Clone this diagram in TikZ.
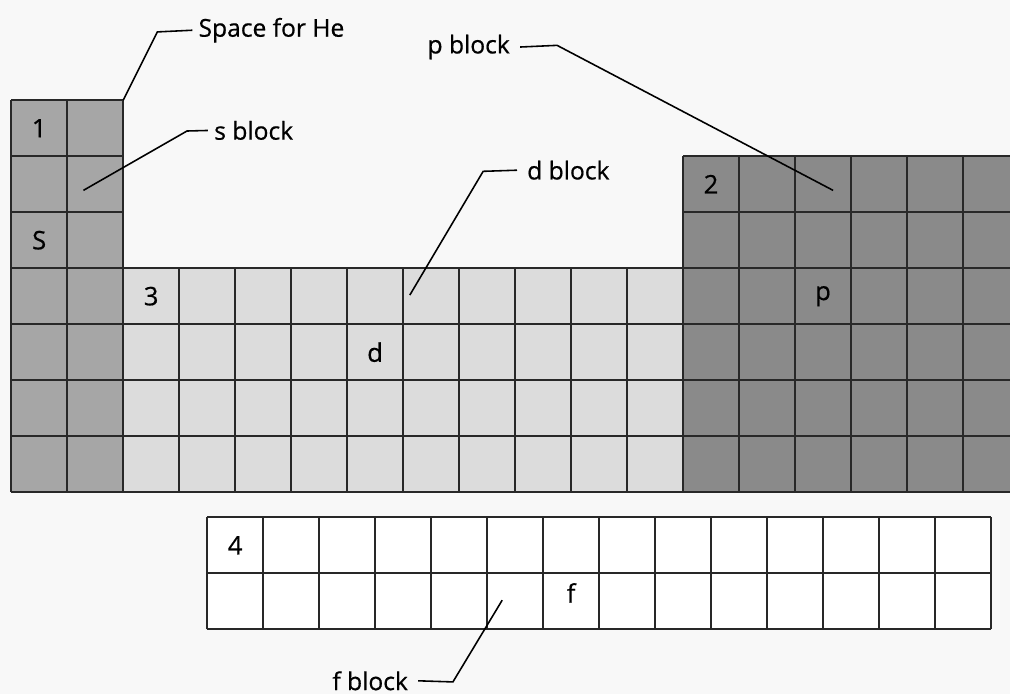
\documentclass[tikz,border=0pt]{standalone}
\usepackage{fontspec}
\setmainfont{Open Sans}[FakeBold=0.6]
\usepackage{tikz}
\usetikzlibrary{positioning}

\definecolor{paper}{RGB}{248,248,248}
\definecolor{sgray}{RGB}{166,166,166}
\definecolor{dgray}{RGB}{220,220,220}
\definecolor{pgray}{RGB}{138,138,138}
\definecolor{gridline}{RGB}{40,40,40}

\begin{document}
\begin{tikzpicture}[
    cellgrid/.style={draw=gridline, line width=1pt},
    lbl/.style={font=\fontsize{12.5}{14}\selectfont, inner sep=0pt, anchor=west},
    cell/.style={font=\fontsize{13}{15}\selectfont, inner sep=0pt},
    leader/.style={line width=0.8pt}
]
\useasboundingbox (-0.2,-3.61) rectangle (17.84,8.79);
\clip (-0.2,-3.61) rectangle (17.84,8.79);
\fill[paper] (-0.2,-3.61) rectangle (17.84,8.79);

\fill[sgray] (0,0) rectangle (2,7);
\fill[dgray] (2,0) rectangle (12,4);
\fill[pgray] (12,0) rectangle (18,6);
\fill[white] (3.5,-2.45) rectangle (17.5,-0.45);
\draw[cellgrid] (0,0) grid (2,7);
\draw[cellgrid] (2,0) grid (12,4);
\draw[cellgrid] (12,0) grid (18,6);
\begin{scope}[shift={(3.5,-2.45)}]
\draw[cellgrid] (0,0) grid (14,2);
\end{scope}

\node[cell] (one) at (0.5,6.5) {1};
\node[cell] (ess) at (0.5,4.5) {S};
\node[cell] (three) at (2.5,3.5) {3};
\node[cell] (dee) at (6.5,2.5) {d};
\node[cell] (two) at (12.5,5.5) {2};
\node[cell] (pee) at (14.5,3.5) {p};
\node[cell] (four) at (4.0,-0.95) {4};
\node[cell] (eff) at (10.0,-1.8) {f};

\node[lbl] (helbl) at (3.34,8.25) {Space for He};
\node[lbl] (slbl) at (3.62,6.46) {s block};
\node[lbl] (plbl) at (7.43,7.95) {p block};
\node[lbl] (dlbl) at (9.21,5.75) {d block};
\node[lbl] (flbl) at (5.73,-3.37) {f block};

\coordinate (hept) at (2,7);
\coordinate (heknee) at (2.61,8.22);
\coordinate (spt) at (1.29,5.39);
\coordinate (sknee) at (3.14,6.45);
\coordinate (ppt) at (14.68,5.39);
\coordinate (pknee) at (9.75,7.98);
\coordinate (dpt) at (7.12,3.52);
\coordinate (dknee) at (8.43,5.73);
\coordinate (fpt) at (8.77,-1.93);
\coordinate (fknee) at (7.89,-3.39);

\draw[leader] ([xshift=-3pt]helbl.west) -- (heknee) -- (hept);
\draw[leader] ([xshift=-3pt]slbl.west) -- (sknee) -- (spt);
\draw[leader] ([xshift=5pt]plbl.east) -- (pknee) -- (ppt);
\draw[leader] ([xshift=-5pt]dlbl.west) -- (dknee) -- (dpt);
\draw[leader] ([xshift=5pt]flbl.east) -- (fknee) -- (fpt);
\end{tikzpicture}
\end{document}
